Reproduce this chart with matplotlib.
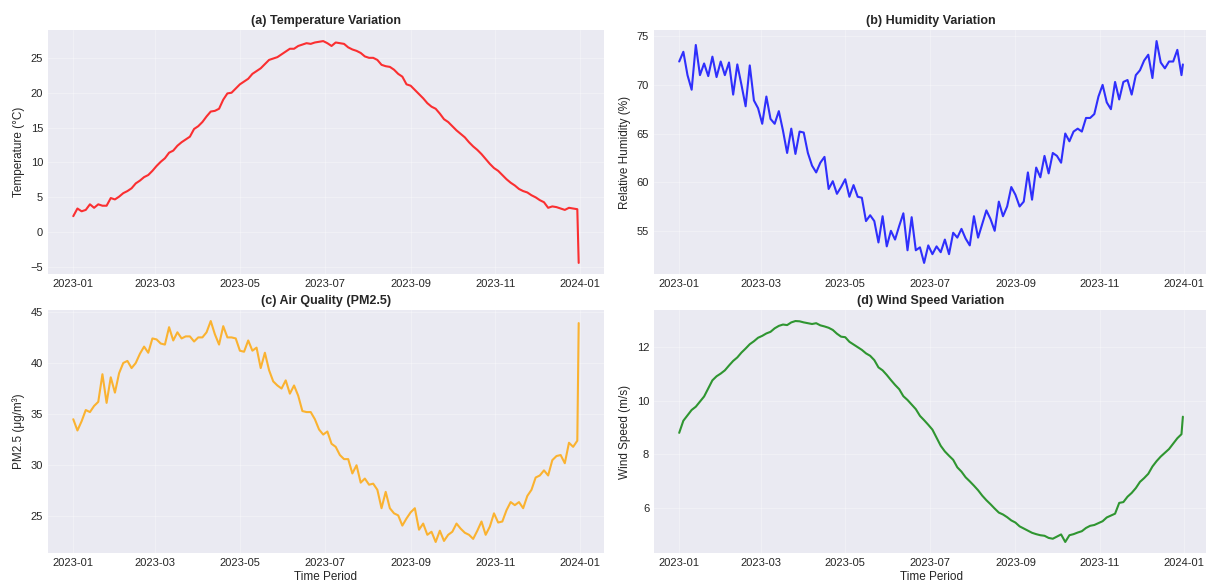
import pandas as pd
import matplotlib
matplotlib.use("Agg")
import matplotlib.pyplot as plt
import matplotlib.dates as mdates

plt.style.use("seaborn-v0_8-darkgrid")
plt.rcParams["font.family"] = ["Liberation Sans", "DejaVu Sans"]

# sampled every third day through 2023, plus the last day of the year
dates = list(pd.date_range("2023-01-01", "2023-12-30", freq="3D")) + [pd.Timestamp("2023-12-31")]

temperature = [
    2.3, 3.4, 3.0, 3.2, 4.0, 3.5, 4.0, 3.8, 3.8, 4.9,
    4.7, 5.1, 5.6, 5.9, 6.3, 7.0, 7.4, 7.9, 8.2, 8.8,
    9.5, 10.1, 10.6, 11.4, 11.7, 12.4, 12.9, 13.3, 13.7, 14.8,
    15.2, 15.8, 16.6, 17.3, 17.4, 17.7, 19.0, 19.9, 20.0, 20.6,
    21.2, 21.6, 22.0, 22.7, 23.1, 23.5, 24.1, 24.7, 24.9, 25.1,
    25.5, 25.9, 26.3, 26.3, 26.7, 26.9, 27.1, 27.0, 27.2, 27.3,
    27.4, 27.1, 26.7, 27.2, 27.1, 27.0, 26.5, 26.2, 26.0, 25.7,
    25.2, 25.0, 25.0, 24.7, 24.0, 23.8, 23.7, 23.3, 22.7, 22.3,
    21.2, 21.0, 20.4, 19.8, 19.2, 18.5, 18.0, 17.7, 17.0, 16.2,
    15.8, 15.2, 14.6, 14.1, 13.6, 12.9, 12.3, 11.8, 11.2, 10.5,
    9.8, 9.2, 8.8, 8.2, 7.6, 7.1, 6.7, 6.2, 5.9, 5.7,
    5.3, 5.0, 4.6, 4.3, 3.5, 3.7, 3.6, 3.4, 3.2, 3.5,
    3.4, 3.3, -4.4,
]

humidity = [
    72.4, 73.4, 71.0, 69.5, 74.1, 71.0, 72.2, 70.9, 72.9, 70.8,
    72.4, 71.0, 72.3, 69.0, 72.1, 70.0, 67.8, 72.0, 68.4, 67.6,
    66.0, 68.8, 66.5, 66.0, 67.3, 65.3, 63.0, 65.5, 62.9, 65.2,
    65.1, 63.0, 61.7, 61.0, 62.0, 62.6, 59.3, 60.1, 58.8, 59.5,
    60.3, 58.5, 59.7, 58.5, 58.4, 56.0, 56.6, 56.0, 53.8, 56.5,
    53.4, 55.0, 54.1, 55.5, 56.8, 53.0, 56.4, 53.0, 53.3, 51.7,
    53.5, 52.6, 53.4, 52.8, 54.1, 52.6, 54.8, 54.3, 55.2, 54.2,
    53.5, 56.5, 54.3, 55.7, 57.1, 56.2, 55.0, 58.0, 56.5, 57.5,
    59.5, 58.7, 57.5, 58.0, 61.0, 58.2, 61.5, 60.5, 62.7, 60.9,
    63.0, 62.7, 62.0, 65.0, 64.2, 65.2, 65.5, 65.2, 66.6, 66.6,
    67.0, 68.8, 70.0, 68.2, 67.5, 70.3, 68.5, 70.3, 70.5, 69.0,
    71.0, 71.5, 72.5, 73.1, 70.7, 74.5, 72.3, 71.7, 72.4, 72.4,
    73.6, 71.0, 72.1,
]

pm25 = [
    34.5, 33.4, 34.3, 35.4, 35.2, 35.8, 36.2, 38.9, 36.1, 38.6,
    37.1, 39.0, 40.0, 40.2, 39.5, 40.0, 40.9, 41.6, 41.0, 42.4,
    42.3, 41.9, 41.8, 43.5, 42.2, 43.0, 42.4, 42.6, 42.6, 42.1,
    42.5, 42.5, 43.0, 44.1, 42.8, 41.8, 43.6, 42.5, 42.5, 42.4,
    41.2, 41.1, 42.2, 41.2, 41.5, 39.5, 41.0, 39.3, 38.2, 37.8,
    37.5, 38.3, 37.0, 37.8, 36.8, 35.3, 35.2, 35.2, 34.5, 33.5,
    33.0, 33.3, 32.1, 31.8, 31.0, 30.6, 30.6, 29.2, 30.0, 28.3,
    28.7, 28.1, 28.2, 27.6, 25.8, 27.4, 25.8, 25.3, 25.1, 24.1,
    24.8, 25.4, 25.8, 23.7, 24.3, 23.2, 23.5, 22.5, 23.6, 22.6,
    23.2, 23.5, 24.3, 23.8, 23.4, 23.2, 22.8, 23.6, 24.5, 23.2,
    24.0, 25.3, 24.4, 24.5, 25.6, 26.4, 26.1, 26.4, 25.8, 27.0,
    27.6, 28.8, 29.0, 29.5, 29.0, 30.5, 30.9, 31.0, 30.2, 32.2,
    31.8, 32.4, 43.9,
]

wind_speed = [
    8.8, 9.25, 9.45, 9.65, 9.77, 9.96, 10.15, 10.45, 10.75, 10.9,
    11.0, 11.12, 11.3, 11.47, 11.6, 11.78, 11.93, 12.09, 12.2, 12.33,
    12.4, 12.49, 12.55, 12.68, 12.77, 12.82, 12.8, 12.9, 12.95, 12.94,
    12.9, 12.87, 12.84, 12.87, 12.79, 12.75, 12.7, 12.62, 12.48, 12.37,
    12.35, 12.18, 12.08, 11.98, 11.88, 11.75, 11.66, 11.5, 11.23, 11.12,
    10.95, 10.76, 10.58, 10.42, 10.16, 10.02, 9.85, 9.68, 9.43, 9.27,
    9.1, 8.92, 8.62, 8.32, 8.11, 7.95, 7.8, 7.52, 7.36, 7.15,
    7.0, 6.84, 6.67, 6.47, 6.3, 6.15, 5.99, 5.84, 5.77, 5.67,
    5.55, 5.47, 5.33, 5.25, 5.17, 5.09, 5.04, 5.0, 4.98, 4.9,
    4.87, 4.95, 5.03, 4.75, 5.0, 5.04, 5.1, 5.15, 5.27, 5.35,
    5.38, 5.45, 5.52, 5.66, 5.73, 5.8, 6.2, 6.23, 6.43, 6.57,
    6.75, 6.98, 7.12, 7.28, 7.55, 7.75, 7.92, 8.06, 8.2, 8.4,
    8.6, 8.75, 9.4,
]

panels = [
    (temperature, "red", "(a) Temperature Variation", "Temperature (°C)"),
    (humidity, "blue", "(b) Humidity Variation", "Relative Humidity (%)"),
    (pm25, "orange", "(c) Air Quality (PM2.5)", "PM2.5 (μg/m³)"),
    (wind_speed, "green", "(d) Wind Speed Variation", "Wind Speed (m/s)"),
]

fig = plt.figure(figsize=(12.06, 5.87), dpi=100)
boxes = [
    [0.0398, 0.5332, 0.4610, 0.4157],
    [0.5423, 0.5332, 0.4594, 0.4157],
    [0.0398, 0.0579, 0.4610, 0.4140],
    [0.5423, 0.0579, 0.4594, 0.4140],
]

for i, (values, color, title, ylabel) in enumerate(panels):
    ax = fig.add_axes(boxes[i])
    ax.plot(dates, values, color=color, alpha=0.8, linewidth=1.5)
    ax.set_title(title, fontsize=9, fontweight="bold", pad=4)
    ax.set_ylabel(ylabel, fontsize=8.5)
    if i >= 2:
        ax.set_xlabel("Time Period", fontsize=8.5, labelpad=2)
    ax.xaxis.set_major_locator(mdates.MonthLocator(bymonth=[1, 3, 5, 7, 9, 11]))
    ax.xaxis.set_major_formatter(mdates.DateFormatter("%Y-%m"))
    ax.tick_params(labelsize=8)
    ax.grid(True, alpha=0.3)

fig.savefig("out.png", dpi=100)
